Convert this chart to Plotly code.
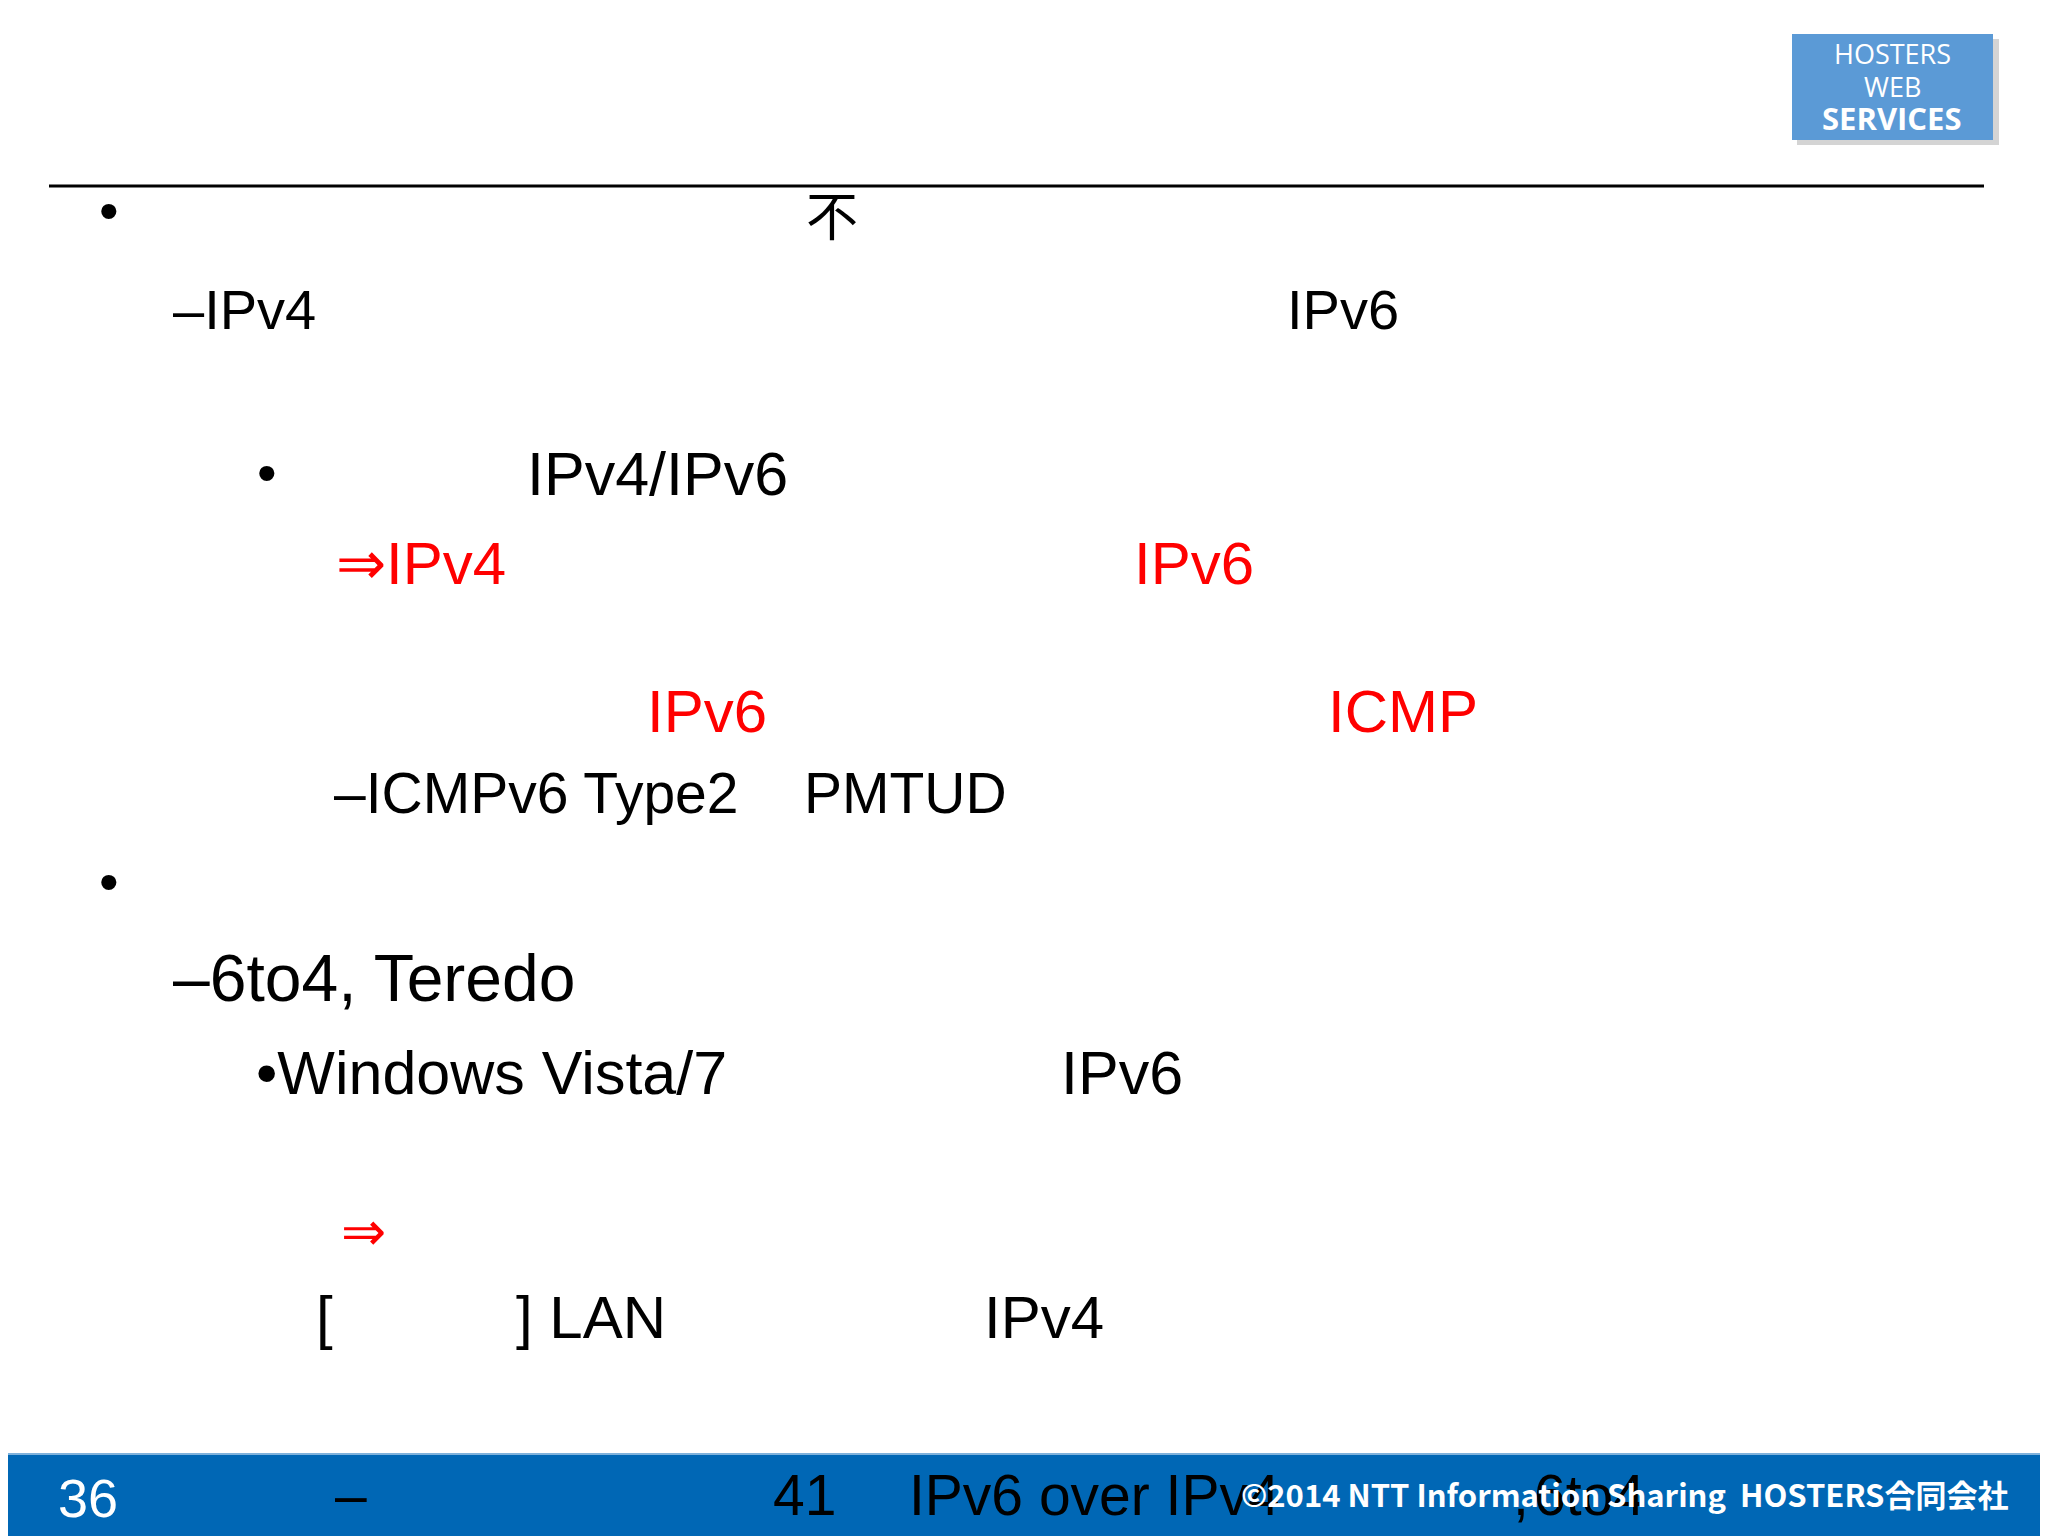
import plotly.graph_objects as go

W, H = 2048, 1536
OFF = 9  # page body margin compensation
# slide text items: text, x(left), y(center), size, color
texts = ["•", "不", "–IPv4", "IPv6", "•", "IPv4/IPv6", "⇒IPv4", "IPv6", "IPv6", "ICMP",
         "–ICMPv6 Type2", "PMTUD", "•", "–6to4, Teredo", "•Windows Vista/7", "IPv6",
         "⇒", "[", "] LAN", "IPv4"]
xs = [98, 805, 172, 1286, 256, 526, 335, 1133, 646, 1327, 333, 803, 98, 172, 255, 1060, 340, 315, 515, 983]
ys = [211, 219, 310, 310, 473, 475, 564, 564, 712, 712, 794, 794, 882, 979, 1074, 1074, 1232, 1318, 1318, 1318]
sizes = [56, 52, 56, 56, 56, 61, 60, 60, 60, 60, 57, 57, 56, 66, 61, 61, 54, 60, 60, 60]
colors = ["black", "black", "black", "black", "black", "black", "red", "red", "red", "red",
          "black", "black", "black", "black", "black", "black", "red", "black", "black", "black"]
footer = ["–", "41", "IPv6 over IPv4", ",", "6to4"]
footer_x = [334, 772, 908, 1512, 1533]

fig = go.Figure()
fig.add_trace(go.Scatter(x=[OFF, W], y=[OFF, H], mode="markers", marker=dict(opacity=0), hoverinfo="skip"))
fig.update_xaxes(range=[OFF, W + OFF], visible=False)
fig.update_yaxes(range=[H + OFF, OFF], visible=False)

shapes = [
    dict(type="line", x0=50, x1=1985, y0=187, y1=187, line=dict(color="black", width=3)),
    dict(type="rect", x0=0, x1=W + 20, y0=1454, y1=H + 20, fillcolor="#0067b5", line=dict(width=0)),
    dict(type="line", x0=0, x1=W + 20, y0=1455, y1=1455, line=dict(color="#7fb2dc", width=2)),
    dict(type="rect", x0=1798, x1=2000, y0=40, y1=146, fillcolor="#b8b8b8", line=dict(width=0), opacity=0.6),
    dict(type="rect", x0=1793, x1=1994, y0=35, y1=141, fillcolor="#5b9ad6", line=dict(width=0)),
]
ann = []
for t, x, y, s, c in zip(texts, xs, ys, sizes, colors):
    fam = "Liberation Serif, Noto Sans CJK JP" if t == "不" else "Liberation Sans, Arial"
    ann.append(dict(text=t, x=x, y=y, xanchor="left", yanchor="middle", showarrow=False,
                    font=dict(size=s, color=c, family=fam)))
for t, x in zip(footer, footer_x):
    ann.append(dict(text=t, x=x, y=1496, xanchor="left", yanchor="middle", showarrow=False,
                    font=dict(size=57, color="black", family="Liberation Sans Narrow, Liberation Sans")))
ann.append(dict(text="36", x=57, y=1499, xanchor="left", yanchor="middle", showarrow=False,
                font=dict(size=54, color="white", family="Liberation Sans")))
ann.append(dict(text="<b>©2014 NTT Information Sharing  HOSTERS合同会社</b>", x=2011, y=1494,
                xanchor="right", yanchor="middle", showarrow=False,
                font=dict(size=31, color="white", family="Liberation Sans Narrow, Noto Sans CJK JP")))
for t, y, s in [("HOSTERS", 54, 27), ("WEB", 87, 27), ("<b>SERVICES</b>", 119, 31)]:
    ann.append(dict(text=t, x=1893, y=y, xanchor="center", yanchor="middle", showarrow=False,
                    font=dict(size=s, color="white", family="Open Sans")))

fig.update_layout(width=W, height=H, margin=dict(l=0, r=0, t=0, b=0),
                  plot_bgcolor="white", paper_bgcolor="white", showlegend=False,
                  shapes=shapes, annotations=ann)
fig.write_html("out.html")
